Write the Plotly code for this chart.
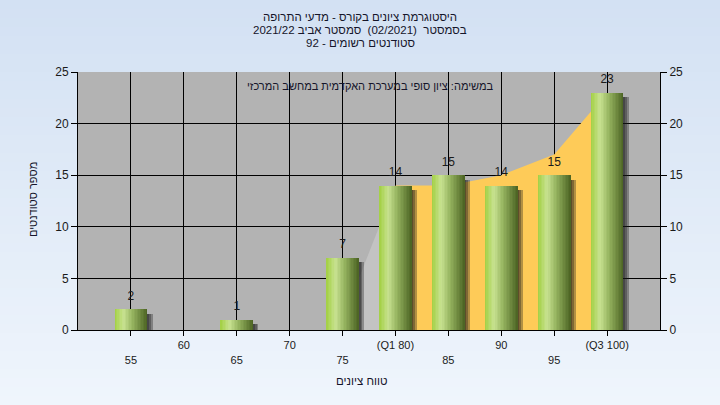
import plotly.graph_objects as go

# ---- data ----
grades = [55, 65, 75, 80, 85, 90, 95, 100]
counts = [2, 1, 7, 14, 15, 14, 15, 23]

tick_vals = [55, 60, 65, 70, 75, 80, 85, 90, 95, 100]
tick_text = ["<br>55", "60", "<br>65", "70", "<br>75", "(Q1 80)", "<br>85", "90", "<br>95", "(Q3 100)"]

lead_x = [75, 80]
lead_y = [1, 14]
iqr_x = [80, 85, 90, 95, 100]
iqr_y = [14, 14, 15, 17, 23]

RLE, PDF = "\u202b", "\u202c"
def rtl(s):
    return RLE + s + PDF

title_lines = [
    "היסטוגרמת ציונים בקורס - מדעי התרופה",
    "בסמסטר \u00a0(02/2021)\u00a0 סמסטר אביב 2021/22",
    "סטודנטים רשומים - 92",
]
subtitle = "במשימה: ציון סופי במערכת האקדמית במחשב המרכזי"
x_title = "טווח ציונים"
y_title = "מספר סטודנטים"

# ---- geometry ----
W, H = 720, 405
L, R, T, B = 78, 60, 72, 75
PW, PH = W - L - R, H - T - B

def px_x(px):
    return (px - L) / PW

def px_y(py):
    return (H - B - py) / PH

FONT = "Arial, 'Liberation Sans', 'DejaVu Sans', sans-serif"
TXT = "#15152a"

fig = go.Figure()

# areas (main subplot, beneath bars)
fig.add_trace(go.Scatter(x=lead_x, y=lead_y, mode="lines", fill="tozeroy",
                         line=dict(width=0, color="#c3c3c3"), fillcolor="#c3c3c3",
                         hoverinfo="skip", showlegend=False))
fig.add_trace(go.Scatter(x=iqr_x, y=iqr_y, mode="lines", fill="tozeroy",
                         line=dict(width=0, color="#fecb58"), fillcolor="#fecb58",
                         hoverinfo="skip", showlegend=False))

# bars (overlay subplot)
BW = 3.1
# shadows
for d in [0.15, 0.32, 0.5]:
    fig.add_trace(go.Bar(x=grades, y=[c - 0.45 for c in counts], width=BW,
                         offset=-BW / 2 + d, marker=dict(color="rgba(25,25,25,0.33)", line=dict(width=0)),
                         xaxis="x2", yaxis="y2", hoverinfo="skip", showlegend=False))

stops = [(0.0, (162, 208, 66)), (0.28, (200, 226, 145)), (0.55, (150, 180, 96)), (1.0, (74, 98, 34))]
def cgrad(t):
    for (p0, c0), (p1, c1) in zip(stops[:-1], stops[1:]):
        if p0 <= t <= p1:
            f = (t - p0) / (p1 - p0)
            return "rgb(%d,%d,%d)" % tuple(round(a + (b - a) * f) for a, b in zip(c0, c1))
    return "rgb(%d,%d,%d)" % stops[-1][1]

N = 22
sw = BW / N
for i in range(N):
    t = (i + 0.5) / N
    w = sw * 1.6 if i < N - 1 else sw
    fig.add_trace(go.Bar(x=grades, y=counts, width=w, offset=-BW / 2 + i * sw,
                         marker=dict(color=cgrad(t), line=dict(width=0)),
                         xaxis="x2", yaxis="y2", hoverinfo="skip", showlegend=False))

# value labels
fig.add_trace(go.Scatter(x=grades, y=counts, mode="markers+text", text=[str(c) for c in counts],
                         marker=dict(size=9, opacity=0),
                         textposition="top center", textfont=dict(size=12, color="#1a1a1a", family=FONT),
                         xaxis="x2", yaxis="y2", hoverinfo="skip", showlegend=False))

# background gradient
top_c = (211, 225, 243)
bot_c = (239, 245, 252)
nb = 45
shapes = []
for k in range(nb):
    f = k / (nb - 1)
    col = "rgb(%d,%d,%d)" % tuple(round(a + (b - a) * f) for a, b in zip(top_c, bot_c))
    y0p = k * H / nb
    y1p = (k + 1) * H / nb + 1
    shapes.append(dict(type="rect", xref="paper", yref="paper", layer="below",
                       x0=px_x(0), x1=px_x(W), y0=px_y(y1p), y1=px_y(y0p),
                       fillcolor=col, line=dict(width=0)))
# plot-area background on top of the gradient
shapes.append(dict(type="rect", xref="paper", yref="paper", layer="below",
                   x0=0, x1=1, y0=0, y1=1, fillcolor="#b3b3b3", line=dict(width=0)))

annotations = []
for ln, py in zip(title_lines, [17, 30, 43]):
    annotations.append(dict(text=rtl(ln), xref="paper", yref="paper", x=px_x(360), y=px_y(py),
                            xanchor="center", yanchor="middle", showarrow=False,
                            font=dict(size=11.5, color=TXT, family=FONT)))
annotations.append(dict(text=rtl(subtitle), xref="paper", yref="paper", x=px_x(370), y=px_y(86),
                        xanchor="center", yanchor="middle", showarrow=False,
                        font=dict(size=11, color=TXT, family=FONT)))
annotations.append(dict(text=rtl(x_title), xref="paper", yref="paper", x=px_x(362), y=px_y(381),
                        xanchor="center", yanchor="middle", showarrow=False,
                        font=dict(size=11.5, color=TXT, family=FONT)))
annotations.append(dict(text=rtl(y_title), xref="paper", yref="paper", x=px_x(33), y=px_y(200),
                        xanchor="center", yanchor="middle", showarrow=False, textangle=-90,
                        font=dict(size=11, color=TXT, family=FONT)))

axis_font = dict(size=12, color="#1a1a1a", family=FONT)
xtick_font = dict(size=11, color="#1a1a1a", family=FONT)
fig.update_layout(
    width=W, height=H,
    margin=dict(l=L, r=R, t=T, b=B, pad=0),
    paper_bgcolor="rgb(225,235,248)",
    plot_bgcolor="#b3b3b3",
    barmode="overlay",
    bargap=0,
    showlegend=False,
    hovermode=False,
    shapes=shapes,
    annotations=annotations,
    xaxis=dict(range=[50, 105], tickvals=tick_vals, ticktext=tick_text, tickfont=xtick_font,
               showgrid=True, gridcolor="black", gridwidth=1, zeroline=False,
               showline=True, linecolor="black", linewidth=1,
               ticks="outside", ticklen=5, tickcolor="black", fixedrange=True),
    yaxis=dict(range=[0, 25], tickvals=[0, 5, 10, 15, 20, 25], tickfont=axis_font,
               showgrid=True, gridcolor="black", gridwidth=1, zeroline=False,
               showline=True, linecolor="black", linewidth=1,
               ticks="outside", ticklen=6, tickcolor="black", fixedrange=True),
    xaxis2=dict(range=[50, 105], overlaying="x", visible=False, fixedrange=True),
    yaxis2=dict(range=[0, 25], overlaying="y", side="right", tickvals=[0, 5, 10, 15, 20, 25],
                tickfont=axis_font, showgrid=False, zeroline=False,
                showline=True, linecolor="black", linewidth=1,
                ticks="outside", ticklen=6, tickcolor="black", fixedrange=True),
)

fig.write_html("out.html", config={"displayModeBar": False, "staticPlot": True},
               post_script="document.body.style.margin='0px';")
